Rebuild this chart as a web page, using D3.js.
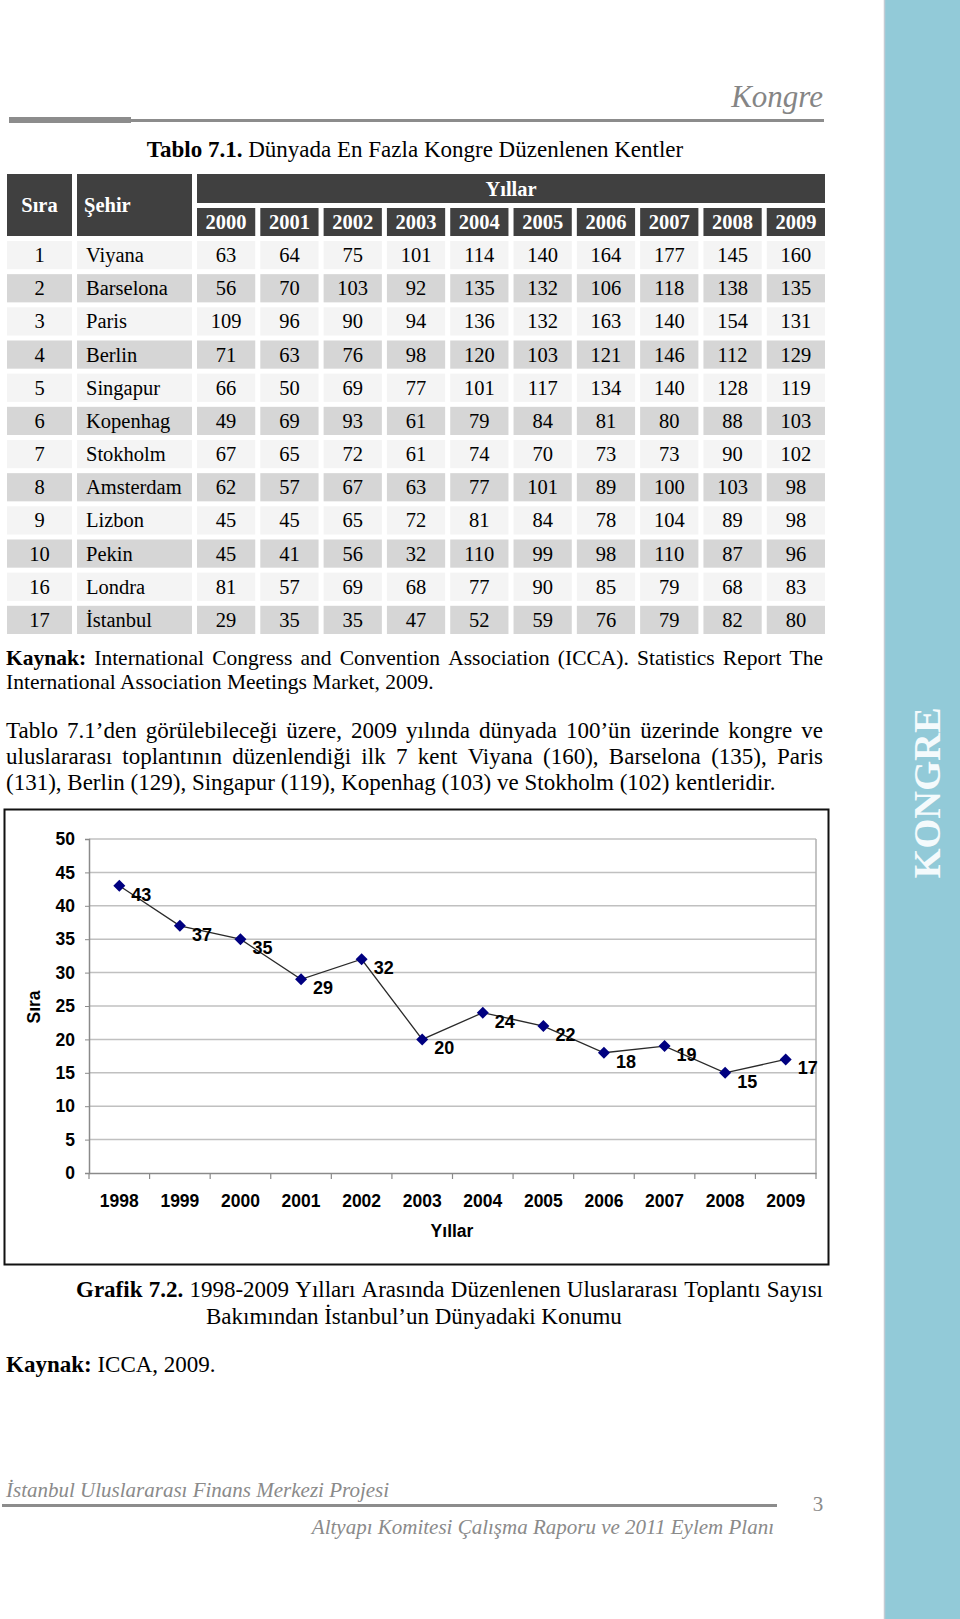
<!DOCTYPE html>
<html><head><meta charset="utf-8">
<script src="https://cdn.jsdelivr.net/npm/d3@7/dist/d3.min.js"></script>
<style>
html,body{margin:0;padding:0;background:#fff;}
svg{display:block;}
</style></head>
<body>
<svg id="page" width="960" height="1619"></svg>
<script>
// ---------- DATA ----------
const tableYears = ["2000","2001","2002","2003","2004","2005","2006","2007","2008","2009"];
const ranks = [1,2,3,4,5,6,7,8,9,10,16,17];
const cities = ["Viyana","Barselona","Paris","Berlin","Singapur","Kopenhag","Stokholm","Amsterdam","Lizbon","Pekin","Londra","İstanbul"];
const tableValues = [
  [63,64,75,101,114,140,164,177,145,160],
  [56,70,103,92,135,132,106,118,138,135],
  [109,96,90,94,136,132,163,140,154,131],
  [71,63,76,98,120,103,121,146,112,129],
  [66,50,69,77,101,117,134,140,128,119],
  [49,69,93,61,79,84,81,80,88,103],
  [67,65,72,61,74,70,73,73,90,102],
  [62,57,67,63,77,101,89,100,103,98],
  [45,45,65,72,81,84,78,104,89,98],
  [45,41,56,32,110,99,98,110,87,96],
  [81,57,69,68,77,90,85,79,68,83],
  [29,35,35,47,52,59,76,79,82,80]
];
const chartYears = ["1998","1999","2000","2001","2002","2003","2004","2005","2006","2007","2008","2009"];
const istanbulRank = [43,37,35,29,32,20,24,22,18,19,15,17];
const yTicks = [0,5,10,15,20,25,30,35,40,45,50];

// ---------- HELPERS ----------
const svg = d3.select("#page");
const SERIF = "'Liberation Serif','Times New Roman',serif";
const SANS = "'Liberation Sans',Arial,sans-serif";

svg.append("rect").attr("width",960).attr("height",1619).attr("fill","#fff");

function textLine(parts, x0, y, o) {
  o = o || {};
  const size = o.size || 23, fill = o.fill || "#000";
  const words = [];
  parts.forEach(p => p.t.split(" ").filter(w => w.length).forEach(w => words.push({t:w,b:p.b})));
  const g = svg.append("g");
  if (o.justify) {
    const nodes = words.map(w => g.append("text").attr("y",y)
      .attr("font-family",SERIF).attr("font-size",size).attr("fill",fill)
      .attr("font-weight",w.b?"bold":"normal").attr("font-style",o.italic?"italic":"normal").text(w.t));
    const widths = nodes.map(n => n.node().getComputedTextLength());
    const total = d3.sum(widths);
    const gap = (o.width - total) / (words.length - 1);
    let x = x0;
    nodes.forEach((n,i) => { n.attr("x", x); x += widths[i] + gap; });
  } else {
    const t = g.append("text").attr("x",x0).attr("y",y)
      .attr("font-family",SERIF).attr("font-size",size).attr("fill",fill)
      .attr("font-style",o.italic?"italic":"normal")
      .attr("text-anchor",o.anchor||"start");
    parts.forEach(p => t.append("tspan").attr("font-weight",p.b?"bold":"normal").text(p.t));
  }
  return g;
}

// ---------- SIDEBAR ----------
svg.append("rect").attr("x",884).attr("y",0).attr("width",76).attr("height",1619).attr("fill","#92cad8");
svg.append("line").attr("x1",884.5).attr("x2",884.5).attr("y1",0).attr("y2",1619).attr("stroke","#c3ccd4").attr("stroke-width",1.5);
svg.append("text").attr("transform","translate(927,793) rotate(-90)")
  .attr("text-anchor","middle").attr("dominant-baseline","central")
  .attr("font-family",SERIF).attr("font-weight","bold").attr("font-size",38.5)
  .attr("fill","#f4fafc").text("KONGRE");

// ---------- PAGE HEADER ----------
svg.append("text").attr("x",823).attr("y",107).attr("text-anchor","end")
  .attr("font-family",SERIF).attr("font-style","italic").attr("font-size",31)
  .attr("fill","#858585").text("Kongre");
svg.append("rect").attr("x",9).attr("y",117).attr("width",122).attr("height",6).attr("fill","#8c8c8c");
svg.append("rect").attr("x",131).attr("y",119).attr("width",693).attr("height",3).attr("fill","#8c8c8c");

// ---------- TABLE ----------
textLine([{t:"Tablo 7.1.",b:true},{t:" Dünyada En Fazla Kongre Düzenlenen Kentler"}], 415, 157, {anchor:"middle"});

const colX = d3.scaleBand().domain(tableYears).range([197,825]).paddingInner(0.08);
const rowY = d3.scaleBand().domain(d3.range(cities.length)).range([241,634]).paddingInner(0.15);
const HDR = "#404040";
const tbl = svg.append("g");
// header
tbl.append("rect").attr("x",7).attr("y",174).attr("width",65).attr("height",62).attr("fill",HDR);
tbl.append("rect").attr("x",77).attr("y",174).attr("width",115).attr("height",62).attr("fill",HDR);
tbl.append("rect").attr("x",colX(tableYears[0])).attr("y",174)
  .attr("width",colX(tableYears[9])+colX.bandwidth()-colX(tableYears[0])).attr("height",29).attr("fill",HDR);
tbl.selectAll("rect.yh").data(tableYears).join("rect").attr("class","yh")
  .attr("x",d=>colX(d)).attr("y",208).attr("width",colX.bandwidth()).attr("height",28).attr("fill",HDR);
const hText = (x,y,s,anchor) => tbl.append("text").attr("x",x).attr("y",y).attr("text-anchor",anchor||"middle")
  .attr("font-family",SERIF).attr("font-weight","bold").attr("font-size",20.5).attr("fill","#fff").text(s);
hText(39.5,212,"Sıra");
hText(84,212,"Şehir","start");
hText((colX(tableYears[0])+colX(tableYears[9])+colX.bandwidth())/2,196,"Yıllar");
tableYears.forEach(yr => hText(colX(yr)+colX.bandwidth()/2,229,yr));

// body
cities.forEach((c,i) => {
  const y0 = rowY(i), h = rowY.bandwidth(), fill = i%2===0 ? "#f4f4f4" : "#d6d6d6";
  const base = y0 + h/2 + 7;
  tbl.append("rect").attr("x",7).attr("y",y0).attr("width",65).attr("height",h).attr("fill",fill);
  tbl.append("rect").attr("x",77).attr("y",y0).attr("width",115).attr("height",h).attr("fill",fill);
  tbl.append("text").attr("x",39.5).attr("y",base).attr("text-anchor","middle")
    .attr("font-family",SERIF).attr("font-size",20.5).attr("fill","#000").text(ranks[i]);
  tbl.append("text").attr("x",86).attr("y",base)
    .attr("font-family",SERIF).attr("font-size",20.5).attr("fill","#000").text(c);
  tableYears.forEach((yr,j) => {
    tbl.append("rect").attr("x",colX(yr)).attr("y",y0).attr("width",colX.bandwidth()).attr("height",h).attr("fill",fill);
    tbl.append("text").attr("x",colX(yr)+colX.bandwidth()/2).attr("y",base).attr("text-anchor","middle")
      .attr("font-family",SERIF).attr("font-size",20.5).attr("fill","#000").text(tableValues[i][j]);
  });
});

// ---------- TEXT BLOCKS ----------
textLine([{t:"Kaynak:",b:true},{t:" International Congress and Convention Association (ICCA). Statistics Report The"}], 6, 665, {justify:true,width:817,size:21.5});
textLine([{t:"International Association Meetings Market, 2009."}], 6, 689, {size:21.5});
textLine([{t:"Tablo 7.1’den görülebileceği üzere, 2009 yılında dünyada 100’ün üzerinde kongre ve"}], 6, 738, {justify:true,width:817});
textLine([{t:"uluslararası toplantının düzenlendiği ilk 7 kent Viyana (160), Barselona (135), Paris"}], 6, 764, {justify:true,width:817});
textLine([{t:"(131), Berlin (129), Singapur (119), Kopenhag (103) ve Stokholm (102) kentleridir."}], 6, 790);

// ---------- CHART ----------
svg.append("rect").attr("x",4.5).attr("y",809.5).attr("width",824).attr("height",455)
  .attr("fill","#fff").attr("stroke","#111").attr("stroke-width",2);

const x = d3.scaleBand().domain(chartYears).range([89,816]);
const y = d3.scaleLinear().domain([0,50]).range([1173,839]);
const ch = svg.append("g");

// gridlines
ch.selectAll("line.grid").data(yTicks.filter(d=>d>0)).join("line").attr("class","grid")
  .attr("x1",89).attr("x2",816).attr("y1",d=>y(d)).attr("y2",d=>y(d))
  .attr("stroke","#c0c0c0").attr("stroke-width",1.5);
ch.append("line").attr("x1",816).attr("x2",816).attr("y1",y(50)).attr("y2",y(0)).attr("stroke","#b0b0b0").attr("stroke-width",1.5);

// axes
const yAxis = d3.axisLeft(y).tickValues(yTicks).tickSize(4).tickPadding(10);
const gy = ch.append("g").attr("transform","translate(89,0)").call(yAxis);
gy.select(".domain").attr("stroke","#8a8a8a").attr("stroke-width",1.5);
gy.selectAll(".tick line").attr("stroke","#8a8a8a");
gy.selectAll(".tick text").attr("font-family",SANS).attr("font-weight","bold").attr("font-size",17.5).attr("fill","#000");

const xAxis = d3.axisBottom(x).tickSize(0).tickPadding(22);
const gx = ch.append("g").attr("transform","translate(0,1173)").call(xAxis);
gx.select(".domain").attr("stroke","#8a8a8a").attr("stroke-width",1.5);
gx.selectAll(".tick text").attr("font-family",SANS).attr("font-weight","bold").attr("font-size",17.5).attr("fill","#000");
// category boundary ticks
const bounds = chartYears.map(d=>x(d)).concat([x(chartYears[chartYears.length-1])+x.bandwidth()]);
ch.selectAll("line.xt").data(bounds).join("line").attr("class","xt")
  .attr("x1",d=>d).attr("x2",d=>d).attr("y1",1173).attr("y2",1179).attr("stroke","#8a8a8a").attr("stroke-width",1.2);

// axis titles
ch.append("text").attr("transform","translate(40,1007) rotate(-90)").attr("text-anchor","middle")
  .attr("font-family",SANS).attr("font-weight","bold").attr("font-size",17.5).text("Sıra");
ch.append("text").attr("x",452).attr("y",1237).attr("text-anchor","middle")
  .attr("font-family",SANS).attr("font-weight","bold").attr("font-size",17.5).text("Yıllar");

// series
const pts = chartYears.map((d,i)=>({yr:d, v:istanbulRank[i]}));
const cx = d => x(d.yr) + x.bandwidth()/2;
ch.append("path").datum(pts).attr("fill","none").attr("stroke","#2a2a2a").attr("stroke-width",1.3)
  .attr("d", d3.line().x(cx).y(d=>y(d.v)));
ch.selectAll("path.mk").data(pts).join("path").attr("class","mk")
  .attr("transform",d=>`translate(${cx(d)},${y(d.v)})`)
  .attr("d","M0,-6L6,0L0,6L-6,0Z").attr("fill","#000080");
ch.selectAll("text.lbl").data(pts).join("text").attr("class","lbl")
  .attr("x",d=>cx(d)+12).attr("y",d=>y(d.v)+15)
  .attr("font-family",SANS).attr("font-weight","bold").attr("font-size",18).attr("fill","#000")
  .text(d=>d.v);

// ---------- CAPTION ----------
textLine([{t:"Grafik 7.2.",b:true},{t:" 1998-2009 Yılları Arasında Düzenlenen Uluslararası Toplantı Sayısı"}], 76, 1297, {justify:true,width:747});
textLine([{t:"Bakımından İstanbul’un Dünyadaki Konumu"}], 206, 1324);
textLine([{t:"Kaynak:",b:true},{t:" ICCA, 2009."}], 6, 1372);

// ---------- FOOTER ----------
textLine([{t:"İstanbul Uluslararası Finans Merkezi Projesi"}], 6, 1497, {italic:true,size:21,fill:"#8a8a8a"});
svg.append("rect").attr("x",2).attr("y",1504).attr("width",775).attr("height",3).attr("fill","#8c8c8c");
svg.append("text").attr("x",818).attr("y",1511).attr("text-anchor","middle")
  .attr("font-family",SERIF).attr("font-size",21).attr("fill","#8a8a8a").text("3");
textLine([{t:"Altyapı Komitesi Çalışma Raporu ve 2011 Eylem Planı"}], 774, 1534, {italic:true,size:21,fill:"#8a8a8a",anchor:"end"});
</script>
</body></html>
